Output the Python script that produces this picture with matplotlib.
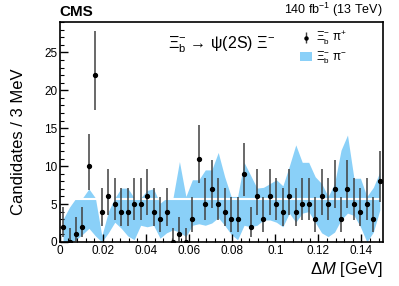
import math
import numpy as np
import matplotlib
matplotlib.use("Agg")
import matplotlib.pyplot as plt
from matplotlib.patches import Patch
from matplotlib.ticker import MultipleLocator

plt.rcParams['font.family'] = ['Liberation Sans', 'DejaVu Sans']
plt.rcParams['mathtext.fontset'] = 'custom'
plt.rcParams['mathtext.rm'] = 'Liberation Sans'
plt.rcParams['mathtext.it'] = 'Liberation Sans:italic'
plt.rcParams['mathtext.bf'] = 'Liberation Sans:bold'

# data: 3 MeV bins from 0 to 0.15 GeV
bin_width = 0.003
counts_plus = [2, 0, 1, 2, 10, 22, 4, 6, 5, 4,
               4, 5, 5, 6, 4, 3, 4, 0, 1, 0,
               3, 11, 5, 7, 5, 4, 3, 3, 9, 2,
               6, 3, 6, 5, 4, 6, 4, 5, 5, 3,
               6, 5, 7, 3, 7, 5, 4, 5, 3, 8]
band_upper = [3.0, 4.6, 5.8, 5.8, 7.0, 5.8, 0.8, 4.0, 5.8, 7.1,
              7.1, 5.8, 5.8, 6.8, 7.0, 5.1, 5.8, 5.8, 10.6, 6.0,
              8.2, 8.2, 9.5, 9.5, 11.8, 8.6, 6.0, 6.0, 10.5, 8.8,
              7.1, 7.2, 7.7, 8.2, 7.4, 10.0, 12.8, 10.5, 10.5, 8.6,
              7.7, 6.0, 7.7, 12.1, 14.1, 8.4, 8.4, 6.0, 7.2, 9.2]
band_lower = [0.0, 0.0, 0.3, 1.0, 1.8, 0.8, 0.0, 1.2, 2.6, 1.8,
              0.8, 0.3, 2.2, 2.0, 2.2, 0.5, 1.2, 1.6, 1.3, 0.7,
              2.2, 2.4, 2.2, 2.5, 3.2, 2.2, 1.0, 0.3, 2.2, 2.0,
              2.2, 2.9, 2.9, 2.6, 2.0, 3.8, 2.6, 3.8, 4.0, 2.6,
              1.2, 0.7, 1.3, 2.9, 3.8, 3.5, 2.0, 0.0, 1.3, 4.2]
band_mean = 5.66


def pois_cdf(n, mu):
    return sum(math.exp(-mu) * mu**k / math.factorial(k) for k in range(n + 1))


def solve(f, target, lo=0.0, hi=80.0):
    # f decreasing in mu
    for _ in range(80):
        mid = 0.5 * (lo + hi)
        if f(mid) > target:
            lo = mid
        else:
            hi = mid
    return 0.5 * (lo + hi)


def garwood(n, a=0.15866):
    up = solve(lambda m: pois_cdf(n, m), a)
    low = 0.0 if n == 0 else solve(lambda m: pois_cdf(n - 1, m), 1 - a)
    return n - low, up - n


x = (np.arange(len(counts_plus)) + 0.5) * bin_width
y = np.array(counts_plus, dtype=float)
errs = np.array([garwood(n) for n in counts_plus]).T

band_color = '#8ad0f8'

fig = plt.figure(figsize=(3.99, 2.86), dpi=100)
ax = fig.add_axes([0.150, 0.154, 0.810, 0.769])

ax.fill_between(x, band_lower, band_upper, color=band_color, lw=0, zorder=1)
ax.axhline(band_mean, color='white', lw=1.5, zorder=2)
ax.errorbar(x, y, yerr=errs, fmt='o', ms=2.8, color='black', ecolor='0.25',
            elinewidth=1.1, capsize=0, zorder=3)

ax.set_xlim(0, 0.15)
ax.set_ylim(0, 29)
ax.xaxis.set_minor_locator(MultipleLocator(0.004))
ax.yaxis.set_major_locator(MultipleLocator(5))
ax.yaxis.set_minor_locator(MultipleLocator(1))
ax.set_xticks([0, 0.02, 0.04, 0.06, 0.08, 0.1, 0.12, 0.14])
ax.set_xticklabels(['0', '0.02', '0.04', '0.06', '0.08', '0.1', '0.12', '0.14'])
ax.tick_params(which='both', direction='in', labelsize=8.5, pad=2)
ax.tick_params(which='major', length=6, width=1)
ax.tick_params(which='minor', length=3, width=0.8)
for s in ax.spines.values():
    s.set_linewidth(1.2)

ax.set_ylabel('Candidates / 3 MeV', fontsize=12, ha='right')
ax.yaxis.set_label_coords(-0.105, 0.79)
ax.set_xlabel(r'$\Delta\mathit{M}$ [GeV]', fontsize=12, ha='right')
ax.xaxis.set_label_coords(1.0, -0.08)

ax.text(0.0, 1.012, 'CMS', transform=ax.transAxes, fontsize=11,
        fontweight='bold', ha='left', va='bottom')
ax.text(1.0, 1.012, r'140 fb$^{-1}$ (13 TeV)', transform=ax.transAxes,
        fontsize=9, ha='right', va='bottom')
ax.text(0.50, 0.895, r'Ξ$_{\mathrm{b}}^{-}$ → ψ(2S) Ξ$^{-}$',
        transform=ax.transAxes, fontsize=11.5, ha='center', va='center')

h_data = ax.errorbar([], [], yerr=[], fmt='o', ms=2.2, color='black',
                     ecolor='0.25', elinewidth=1.0)
h_band = Patch(facecolor=band_color, edgecolor='none')
ax.legend([h_data, h_band],
          [r'Ξ$_{\mathrm{b}}^{-}$ π$^{+}$', r'Ξ$_{\mathrm{b}}^{-}$ π$^{-}$'],
          loc='upper left', bbox_to_anchor=(0.735, 0.975), frameon=False,
          fontsize=8.5, handlelength=1.0, handletextpad=0.4, labelspacing=0.2,
          borderaxespad=0.0, borderpad=0.2)

fig.savefig('out.png', dpi=100)
